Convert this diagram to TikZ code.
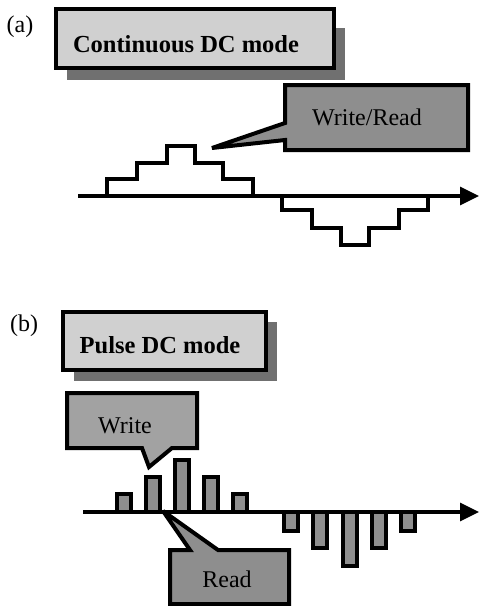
\documentclass[tikz,border=0pt]{standalone}
\usepackage{fontspec}
\setmainfont{Liberation Serif}
\usetikzlibrary{arrows.meta}
\definecolor{boxgray}{HTML}{D0D0D0}
\definecolor{shadowgray}{HTML}{707070}
\definecolor{callgray}{HTML}{8E8E8E}
\definecolor{writegray}{HTML}{A2A2A2}

\begin{document}
\begin{tikzpicture}[x=1pt, y=-1pt, line width=3.4pt, miter limit=4,
    every node/.style={font=\fontsize{24}{28}\selectfont, inner sep=0pt, anchor=base},
    titletext/.style={font=\fontsize{24.5}{28}\selectfont\bfseries},
    boxline/.style={line width=4pt},
    axisline/.style={-{Triangle[length=19pt,width=18pt]}}]
    \useasboundingbox (0,0) rectangle (480,606);
    % (a) modo DC continuo
    \node (lbla) at (20,32) {(a)};
    \fill[shadowgray] (67,28) rectangle (345,80);
    \draw[boxline, fill=boxgray] (56,9) rectangle (334,68);
    \node[titletext] (titlea) at (186,52) {Continuous DC mode};
    \coordinate (axa0) at (78,196);
    \coordinate (axa1) at (479,196);
    \draw[axisline] (axa0) -- (axa1);
    \draw (107,196) |- (137,179) |- (167,163) |- (195,146) |- (223,163) |- (253,179) -- (253,196);
    \draw (282,196) |- (312,210) |- (341,228) |- (369,245) |- (399,228) |- (428,210) -- (428,196);
    \draw[boxline, fill=callgray] (285,85) -- (468,85) -- (468,150) -- (285,150) -- (285,140) -- (212,148) -- (285,123) -- cycle;
    \node (wr) at (367,125) {Write/Read};
    % (b) modo DC pulsado
    \node (lblb) at (24,331) {(b)};
    \fill[shadowgray] (74,322) rectangle (277,381);
    \draw[boxline, fill=boxgray] (63,312) rectangle (266,370);
    \node[titletext] (titleb) at (160,353) {Pulse DC mode};
    \foreach \x/\h in {117/18,146/35,175/52,204/35,233/18} \draw[fill=callgray] (\x,512) rectangle ++(14,-\h);
    \foreach \x/\h in {284/19,313/36,343/54,372/36,401/19} \draw[fill=callgray] (\x,512) rectangle ++(14,\h);
    \coordinate (axb0) at (83,512);
    \coordinate (axb1) at (479,512);
    \draw[axisline] (axb0) -- (axb1);
    \draw[boxline, fill=writegray] (67,393) -- (197,393) -- (197,448) -- (172,448) -- (149,467) -- (142,448) -- (67,448) -- cycle;
    \node (wlabel) at (125,433) {Write};
    \draw[boxline, fill=callgray] (170,550) -- (190,550) -- (163,511) -- (218,550) -- (289,550) -- (289,604) -- (170,604) -- cycle;
    \node (rlabel) at (227,587) {Read};
\end{tikzpicture}
\end{document}
